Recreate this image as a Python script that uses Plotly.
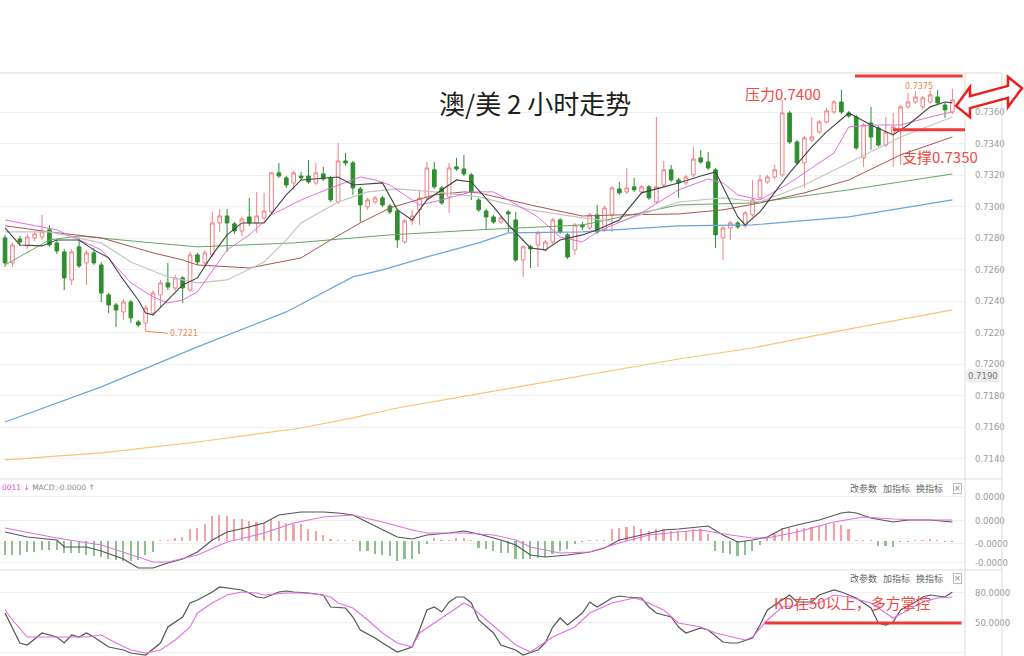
import plotly.graph_objects as go

# ---------------- candle data (AUD/USD, 2h) ----------------
opens = [0.72803, 0.72644, 0.72796, 0.72752, 0.72803, 0.72809, 0.72854, 0.72771, 0.72714, 0.72536,
         0.72746, 0.72644, 0.72708, 0.72631, 0.72441, 0.72377, 0.72333, 0.72396, 0.72269, 0.72263,
         0.72326, 0.72441, 0.72517, 0.72485, 0.72549, 0.72472, 0.72695, 0.72644, 0.72695, 0.72898,
         0.72942, 0.72892, 0.72847, 0.72936, 0.72898, 0.72930, 0.72968, 0.73216, 0.73184, 0.73152,
         0.73196, 0.73196, 0.73152, 0.73209, 0.73184, 0.73031, 0.73292, 0.73279, 0.73114, 0.73000,
         0.73031, 0.73057, 0.73006, 0.72974, 0.72777, 0.72911, 0.72981, 0.73057, 0.73235, 0.73120,
         0.73063, 0.73254, 0.73241, 0.73203, 0.73044, 0.72974, 0.72936, 0.72904, 0.72968, 0.72917,
         0.72663, 0.72746, 0.72758, 0.72727, 0.72777, 0.72917, 0.72822, 0.72727, 0.72885, 0.72866,
         0.72949, 0.72854, 0.72949, 0.73114, 0.73095, 0.73127, 0.73095, 0.73127, 0.73031, 0.73139,
         0.73235, 0.73171, 0.73152, 0.73203, 0.73311, 0.73285, 0.73235, 0.72803, 0.72866, 0.72898,
         0.72879, 0.72949, 0.73057, 0.73158, 0.73190, 0.73203, 0.73596, 0.73412, 0.73279, 0.73425,
         0.73476, 0.73539, 0.73603, 0.73666, 0.73596, 0.73571, 0.73311, 0.73533, 0.73501, 0.73393,
         0.73469, 0.73489, 0.73635, 0.73666, 0.73635, 0.73666, 0.73698, 0.73647, 0.73603]
highs = [0.72822, 0.72771, 0.72815, 0.72828, 0.72847, 0.72949, 0.72885, 0.72790, 0.72733, 0.72733,
         0.72809, 0.72727, 0.72739, 0.72650, 0.72453, 0.72390, 0.72415, 0.72409, 0.72282, 0.72377,
         0.72472, 0.72536, 0.72644, 0.72568, 0.72561, 0.72714, 0.72708, 0.72727, 0.72968, 0.72987,
         0.72987, 0.72904, 0.72936, 0.73057, 0.73095, 0.73089, 0.73222, 0.73279, 0.73196, 0.73228,
         0.73222, 0.73298, 0.73279, 0.73254, 0.73196, 0.73406, 0.73342, 0.73292, 0.73127, 0.73057,
         0.73070, 0.73070, 0.73019, 0.72987, 0.72923, 0.72981, 0.73108, 0.73285, 0.73285, 0.73133,
         0.73279, 0.73311, 0.73330, 0.73216, 0.73057, 0.72987, 0.72949, 0.72942, 0.72981, 0.72968,
         0.72758, 0.72758, 0.72847, 0.72790, 0.72930, 0.72930, 0.72835, 0.72898, 0.72904, 0.72962,
         0.73012, 0.73006, 0.73133, 0.73158, 0.73247, 0.73184, 0.73139, 0.73139, 0.73571, 0.73292,
         0.73266, 0.73184, 0.73203, 0.73381, 0.73362, 0.73349, 0.73247, 0.72879, 0.72911, 0.72911,
         0.72974, 0.73171, 0.73203, 0.73203, 0.73266, 0.73679, 0.73609, 0.73425, 0.73450, 0.73571,
         0.73552, 0.73628, 0.73679, 0.73743, 0.73609, 0.73584, 0.73533, 0.73635, 0.73514, 0.73571,
         0.73596, 0.73647, 0.73723, 0.73736, 0.73704, 0.73743, 0.73743, 0.73660, 0.73750]
lows = [0.72619, 0.72619, 0.72752, 0.72733, 0.72784, 0.72790, 0.72746, 0.72701, 0.72472, 0.72504,
        0.72612, 0.72504, 0.72631, 0.72396, 0.72326, 0.72237, 0.72282, 0.72263, 0.72237, 0.72210,
        0.72307, 0.72358, 0.72472, 0.72466, 0.72390, 0.72460, 0.72631, 0.72625, 0.72682, 0.72841,
        0.72714, 0.72828, 0.72815, 0.72879, 0.72835, 0.72917, 0.72955, 0.73184, 0.73120, 0.73108,
        0.73165, 0.73146, 0.73139, 0.73165, 0.73031, 0.73019, 0.73260, 0.73076, 0.72904, 0.72981,
        0.73019, 0.73000, 0.72955, 0.72739, 0.72765, 0.72885, 0.72885, 0.73044, 0.73114, 0.73012,
        0.72962, 0.73228, 0.73196, 0.73044, 0.72968, 0.72854, 0.72892, 0.72892, 0.72841, 0.72650,
        0.72555, 0.72612, 0.72619, 0.72714, 0.72765, 0.72828, 0.72669, 0.72695, 0.72854, 0.72854,
        0.72828, 0.72841, 0.72841, 0.73076, 0.73082, 0.73095, 0.73082, 0.73044, 0.73019, 0.73127,
        0.73158, 0.73057, 0.73139, 0.73190, 0.73273, 0.73235, 0.72739, 0.72663, 0.72790, 0.72860,
        0.72866, 0.72936, 0.73044, 0.73146, 0.73177, 0.73190, 0.73400, 0.73266, 0.73120, 0.73412,
        0.73463, 0.73527, 0.73590, 0.73590, 0.73565, 0.73362, 0.73254, 0.73362, 0.73381, 0.73381,
        0.73254, 0.73266, 0.73622, 0.73654, 0.73622, 0.73654, 0.73647, 0.73565, 0.73590]
closes = [0.72644, 0.72758, 0.72777, 0.72809, 0.72828, 0.72841, 0.72758, 0.72720, 0.72549, 0.72714,
          0.72625, 0.72708, 0.72644, 0.72453, 0.72377, 0.72345, 0.72396, 0.72295, 0.72250, 0.72358,
          0.72453, 0.72517, 0.72491, 0.72549, 0.72485, 0.72695, 0.72650, 0.72708, 0.72898, 0.72942,
          0.72898, 0.72847, 0.72923, 0.72898, 0.72942, 0.72974, 0.73216, 0.73196, 0.73139, 0.73216,
          0.73184, 0.73158, 0.73216, 0.73177, 0.73044, 0.73292, 0.73279, 0.73120, 0.73012, 0.73044,
          0.73057, 0.73012, 0.72968, 0.72790, 0.72911, 0.72942, 0.73057, 0.73247, 0.73127, 0.73025,
          0.73247, 0.73241, 0.73209, 0.73095, 0.72981, 0.72936, 0.72904, 0.72930, 0.72955, 0.72663,
          0.72746, 0.72733, 0.72835, 0.72777, 0.72917, 0.72841, 0.72682, 0.72885, 0.72873, 0.72949,
          0.72841, 0.72993, 0.73120, 0.73089, 0.73120, 0.73108, 0.73127, 0.73057, 0.73127, 0.73235,
          0.73171, 0.73152, 0.73190, 0.73304, 0.73285, 0.73247, 0.72822, 0.72866, 0.72898, 0.72873,
          0.72962, 0.73044, 0.73171, 0.73190, 0.73235, 0.73596, 0.73412, 0.73279, 0.73438, 0.73444,
          0.73539, 0.73609, 0.73666, 0.73603, 0.73577, 0.73374, 0.73520, 0.73444, 0.73393, 0.73476,
          0.73508, 0.73635, 0.73666, 0.73698, 0.73692, 0.73711, 0.73660, 0.73616, 0.73679]
bars = list(range(len(opens)))

# ---------------- moving averages ----------------
ma5_x = [0, 2, 5, 7, 10, 12, 14, 16, 18, 19, 20, 22, 24, 26, 28, 30, 32, 35, 38, 40,
         43, 45, 47, 51, 53, 55, 57, 61, 63, 66, 68, 71, 73, 75, 78, 80, 83, 86, 89, 91,
         94, 96, 99, 100, 102, 106, 109, 111, 114, 117, 120, 122, 125, 127, 128]
ma5_y = [0.72866, 0.72758, 0.72752, 0.72790, 0.72790, 0.72727, 0.72676, 0.72536, 0.72409, 0.72326,
         0.72314, 0.72409, 0.72504, 0.72549, 0.72695, 0.72822, 0.72898, 0.72898, 0.73076, 0.73171,
         0.73184, 0.73190, 0.73139, 0.73152, 0.72981, 0.72917, 0.73044, 0.73171, 0.73158, 0.73000,
         0.72885, 0.72739, 0.72727, 0.72790, 0.72822, 0.72854, 0.72917, 0.73089, 0.73127, 0.73152,
         0.73196, 0.73222, 0.72936, 0.72885, 0.72968, 0.73216, 0.73381, 0.73476, 0.73596, 0.73520,
         0.73457, 0.73520, 0.73635, 0.73666, 0.73660]
ma10_x = [0, 7, 13, 17, 20, 22, 24, 26, 30, 33, 36, 40, 44, 48, 50, 52, 56, 59, 63, 66,
          68, 72, 75, 78, 80, 86, 91, 95, 97, 99, 102, 106, 112, 114, 117, 121, 125, 128]
ma10_y = [0.72917, 0.72854, 0.72727, 0.72517, 0.72428, 0.72390, 0.72409, 0.72460, 0.72727, 0.72822,
          0.72949, 0.73044, 0.73120, 0.73190, 0.73171, 0.73139, 0.73012, 0.73044, 0.73095, 0.73095,
          0.73044, 0.72936, 0.72809, 0.72777, 0.72841, 0.72962, 0.73108, 0.73177, 0.73152, 0.73076,
          0.73044, 0.73152, 0.73342, 0.73508, 0.73520, 0.73520, 0.73571, 0.73603]
ma20_x = [0, 6, 13, 17, 22, 26, 30, 35, 38, 40, 45, 49, 53, 58, 64, 71, 78, 83, 87, 91,
          97, 102, 108, 114, 121, 128]
ma20_y = [0.72841, 0.72841, 0.72771, 0.72650, 0.72555, 0.72517, 0.72536, 0.72650, 0.72790, 0.72898,
          0.73031, 0.73095, 0.73114, 0.73095, 0.73063, 0.72981, 0.72930, 0.72904, 0.72968, 0.73031,
          0.73057, 0.73031, 0.73139, 0.73279, 0.73444, 0.73571]
ma30_x = [0, 6, 13, 20, 24, 26, 33, 40, 44, 48, 52, 58, 62, 64, 71, 78, 83, 91, 97, 102,
          108, 114, 121, 128]
ma30_y = [0.72880, 0.72841, 0.72803, 0.72708, 0.72663, 0.72631, 0.72612, 0.72676, 0.72790, 0.72898,
          0.72993, 0.73076, 0.73095, 0.73089, 0.73012, 0.72942, 0.72949, 0.72955, 0.72981, 0.73025,
          0.73089, 0.73171, 0.73330, 0.73444]
ma60_x = [0, 6, 10, 13, 20, 26, 39, 52, 64, 78, 91, 101, 114, 128]
ma60_y = [0.72631, 0.72790, 0.72815, 0.72803, 0.72771, 0.72746, 0.72771, 0.72822, 0.72854, 0.72885,
          0.73012, 0.73025, 0.73108, 0.73209]
ma120_x = [0, 13, 26, 38, 47, 51, 57, 64, 68, 78, 91, 101, 114, 128]
ma120_y = [0.71634, 0.71857, 0.72111, 0.72333, 0.72555, 0.72600, 0.72682, 0.72771, 0.72835, 0.72841,
           0.72879, 0.72885, 0.72936, 0.73044]
ma250_x = [0, 13, 26, 40, 47, 53, 67, 80, 91, 101, 112, 128]
ma250_y = [0.71393, 0.71438, 0.71507, 0.71596, 0.71660, 0.71723, 0.71838, 0.71945, 0.72034, 0.72104,
           0.72206, 0.72346]

# ---------------- MACD (units of 1e-6) ----------------
macd_hist = [-14, -14, -14, -11, -11, -9, -9, -9, -12, -12, -12, -14, -15, -16, -18, -19, -20, -20, -19, -14,
             -11, 0.5, 0.5, 3, 4, 12, 13, 17, 25, 26, 25, 22, 22, 20, 19, 18, 22, 20, 18, 17,
             17, 12, 10, 6, 2, 1, 1, 1, -10, -10, -13, -14, -15, -20, -18, -18, -13, -3, 3, 1,
             1, 3, 3, 1, -7, -8, -10, -12, -12, -18, -18, -18, -17, -16, -13, -10, -8, -3, -1, 1,
             1, 1, 12, 13, 14, 15, 12, 10, 12, 12, 10, 10, 10, 12, 12, 7, -10, -12, -13, -15,
             -14, -10, -4, 3, 7, 13, 13, 12, 13, 14, 15, 17, 18, 16, 12, 1, 1, 1, -5, -5,
             -6, -1, -1, 1, 1, 2, 1, -1, -1]
dif_x = [0, 3, 7, 8, 11, 13, 16, 18, 20, 22, 24, 26, 28, 30, 33, 35, 37, 40, 43, 45,
         47, 51, 53, 55, 57, 60, 62, 64, 67, 69, 71, 73, 76, 79, 81, 83, 86, 89, 91, 94,
         95, 97, 99, 101, 103, 105, 107, 110, 113, 114, 115, 117, 120, 122, 125, 128]
dif_y = [9, 4, 1, -6, -6, -10, -18, -27, -27, -22, -18, -11, 1, 9, 14, 18, 26, 29, 29, 28,
         26, 11, 4, 2, 6, 8, 10, 7, 1, -4, -14, -16, -14, -11, -7, 1, 6, 11, 12, 14,
         15, 6, -1, 1, 4, 12, 16, 21, 28, 29, 28, 23, 19, 21, 21, 19]
dea_x = [0, 7, 13, 17, 20, 22, 26, 30, 35, 39, 43, 47, 51, 55, 57, 62, 66, 69, 71, 75,
         79, 83, 87, 91, 94, 98, 101, 103, 107, 112, 116, 120, 124, 128]
dea_y = [13, 3, -4, -14, -21, -21, -14, -1, 8, 18, 24, 26, 19, 11, 8, 8, 6, 1, -6, -12,
         -11, -2, 6, 9, 11, 6, 3, 3, 9, 19, 24, 22, 21, 21]

# ---------------- KD ----------------
k_x = [0, 2, 3, 5, 7, 8, 9, 10, 11, 12, 14, 16, 17, 19, 21, 22, 24, 25, 26, 28,
       29, 30, 32, 33, 34, 35, 37, 38, 39, 41, 43, 44, 46, 47, 48, 50, 51, 53, 55, 56,
       57, 58, 59, 60, 61, 62, 63, 64, 66, 67, 69, 70, 72, 73, 74, 75, 76, 78, 79, 80,
       82, 83, 84, 86, 87, 88, 90, 91, 92, 94, 95, 97, 98, 99, 101, 102, 103, 105, 106, 107,
       109, 110, 112, 113, 114, 115, 117, 118, 119, 120, 121, 123, 124, 125, 127, 128]
k_y = [60, 30, 28, 40, 36, 30, 38, 36, 40, 36, 26, 23, 20, 18, 30, 46, 56, 70, 73, 81,
       86, 85, 83, 80, 76, 75, 81, 82, 81, 80, 78, 66, 65, 56, 43, 35, 30, 21, 26, 43,
       63, 66, 61, 71, 76, 76, 70, 53, 40, 28, 23, 18, 23, 30, 46, 55, 48, 60, 71, 66,
       75, 77, 76, 75, 66, 60, 56, 46, 40, 45, 43, 31, 30, 30, 35, 48, 63, 73, 78, 71,
       71, 78, 83, 81, 78, 75, 65, 50, 48, 51, 63, 71, 76, 78, 76, 81]
d_x = [0, 1, 3, 6, 8, 11, 13, 15, 17, 19, 21, 23, 25, 26, 28, 30, 32, 34, 35, 38,
       40, 42, 44, 45, 47, 49, 51, 53, 55, 56, 58, 60, 62, 63, 65, 67, 69, 71, 74, 77,
       79, 82, 85, 86, 89, 91, 94, 96, 100, 101, 103, 105, 108, 110, 112, 114, 117, 119, 120, 122,
       124, 126, 128]
d_y = [63, 53, 36, 36, 36, 36, 38, 30, 23, 20, 23, 33, 46, 60, 70, 78, 81, 80, 78, 80,
       80, 79, 76, 70, 65, 53, 40, 30, 26, 40, 50, 60, 70, 66, 53, 40, 28, 21, 36, 46,
       60, 70, 75, 73, 63, 50, 46, 40, 33, 36, 53, 66, 68, 70, 78, 76, 70, 60, 55, 63,
       71, 75, 76]

# ---------------- axis ticks ----------------
price_ticks = [0.7140, 0.7160, 0.7180, 0.7200, 0.7220, 0.7240, 0.7260, 0.7280, 0.7300, 0.7320, 0.7340, 0.7360]
price_tick_text = ["0.7140", "0.7160", "0.7180", "0.7200", "0.7220", "0.7240", "0.7260", "0.7280",
                   "0.7300", "0.7320", "0.7340", "0.7360"]
macd_ticks = [44, 20, -3, -22]
macd_tick_text = ["0.0000", "0.0000", "-0.0000", "-0.0000"]
kd_ticks = [80, 50, 20]
kd_tick_text = ["80.0000", "50.0000", "20.0000"]

resistance_level = 0.73831
support_level = 0.73489
kd_level = 50
low_value = 0.7221
high_value = 0.7375
last_price = 0.7190

RED = "#f08080"
GREEN = "#2f8f2f"
ANN_RED = "#ee4b45"

fig = go.Figure()
fig.add_trace(go.Candlestick(
    x=bars, open=opens, high=highs, low=lows, close=closes,
    increasing=dict(line=dict(color=RED, width=1), fillcolor="white"),
    decreasing=dict(line=dict(color=GREEN, width=1), fillcolor=GREEN),
    xaxis="x", yaxis="y", showlegend=False, hoverinfo="skip"))

for xs, ys, col, w in [(ma250_x, ma250_y, "#fbc46e", 1.2), (ma120_x, ma120_y, "#6aa5dc", 1.2),
                       (ma60_x, ma60_y, "#63a863", 1.0), (ma30_x, ma30_y, "#a8564f", 1.0),
                       (ma20_x, ma20_y, "#c4c4c4", 1.2), (ma10_x, ma10_y, "#e26ee2", 1.0),
                       (ma5_x, ma5_y, "#444444", 1.1)]:
    fig.add_trace(go.Scatter(x=xs, y=ys, mode="lines", line=dict(color=col, width=w),
                             xaxis="x", yaxis="y", showlegend=False, hoverinfo="skip"))

hist_colors = ["#f4a3a3" if v > 0 else "#8fbf8f" for v in macd_hist]
fig.add_trace(go.Bar(x=bars, y=macd_hist, width=0.22, marker=dict(color=hist_colors, line=dict(width=0)),
                     xaxis="x2", yaxis="y2", showlegend=False, hoverinfo="skip"))
fig.add_trace(go.Scatter(x=dif_x, y=dif_y, mode="lines", line=dict(color="#555555", width=1.2),
                         xaxis="x2", yaxis="y2", showlegend=False, hoverinfo="skip"))
fig.add_trace(go.Scatter(x=dea_x, y=dea_y, mode="lines", line=dict(color="#e070e0", width=1.1),
                         xaxis="x2", yaxis="y2", showlegend=False, hoverinfo="skip"))
fig.add_trace(go.Scatter(x=k_x, y=k_y, mode="lines", line=dict(color="#555555", width=1.2),
                         xaxis="x3", yaxis="y3", showlegend=False, hoverinfo="skip"))
fig.add_trace(go.Scatter(x=d_x, y=d_y, mode="lines", line=dict(color="#e070e0", width=1.1),
                         xaxis="x3", yaxis="y3", showlegend=False, hoverinfo="skip"))

XR = [-0.68, 129.7]
XD = [0, 0.94238]
xcommon = dict(range=XR, domain=XD, showgrid=False, zeroline=False, showticklabels=False,
               showline=False, ticks="", fixedrange=True)
ycommon = dict(side="right", showgrid=True, gridcolor="#f1f1f1", gridwidth=1, zeroline=False,
               showline=False, ticks="", ticklabelstandoff=9,
               tickfont=dict(family="DejaVu Sans", size=8.5, color="#9a9a9a"), fixedrange=True)

fig.update_layout(
    width=1024, height=656, margin=dict(l=0, r=0, t=0, b=0),
    paper_bgcolor="white", plot_bgcolor="white", hovermode=False, showlegend=False,
    xaxis=dict(**xcommon, anchor="y", rangeslider=dict(visible=False)),
    xaxis2=dict(**xcommon, anchor="y2"),
    xaxis3=dict(**xcommon, anchor="y3"),
    yaxis=dict(**ycommon, anchor="x", domain=[0.26982, 0.88872], range=[0.71272, 0.73850],
               tickvals=price_ticks, ticktext=price_tick_text),
    yaxis2=dict(**ycommon, anchor="x2", domain=[0.13110, 0.26982], range=[-29, 62],
                tickvals=macd_ticks, ticktext=macd_tick_text),
    yaxis3=dict(**ycommon, anchor="x3", domain=[0, 0.13110], range=[17, 103],
                tickvals=kd_ticks, ticktext=kd_tick_text),
    bargap=0,
)

line_col = "#dcdcdc"
shapes = [
    dict(type="line", xref="paper", yref="paper", x0=0, x1=0.9785, y0=0.88872, y1=0.88872,
         line=dict(color=line_col, width=1)),
    dict(type="line", xref="paper", yref="paper", x0=0, x1=0.9785, y0=0.26982, y1=0.26982,
         line=dict(color=line_col, width=1)),
    dict(type="line", xref="paper", yref="paper", x0=0, x1=0.9785, y0=0.13110, y1=0.13110,
         line=dict(color=line_col, width=1)),
    dict(type="line", xref="paper", yref="paper", x0=0.94238, x1=0.94238, y0=0, y1=0.88872,
         line=dict(color=line_col, width=1)),
    dict(type="line", xref="paper", yref="paper", x0=0.9785, x1=0.9785, y0=0, y1=0.88872,
         line=dict(color=line_col, width=1)),
    # resistance / support / KD 50 lines
    dict(type="line", xref="paper", yref="y", x0=0.835, x1=0.940, y0=resistance_level, y1=resistance_level,
         line=dict(color="#ee3a36", width=3)),
    dict(type="line", xref="paper", yref="y", x0=0.872, x1=0.9424, y0=support_level, y1=support_level,
         line=dict(color="#ee3a36", width=3)),
    dict(type="line", xref="paper", yref="y3", x0=0.747, x1=0.939, y0=kd_level, y1=kd_level,
         line=dict(color="#ee3a36", width=3)),
    # double arrow
    dict(type="path", xref="paper", yref="paper",
         path=("M 0.93359 0.83857 L 0.94727 0.86723 L 0.94727 0.85351 L 0.98438 0.86905 "
               "L 0.98438 0.88277 L 0.99805 0.86570 L 0.98438 0.83704 L 0.98438 0.85076 "
               "L 0.94727 0.83521 L 0.94727 0.82149 Z"),
         line=dict(color="#ee1c1c", width=2.5), fillcolor="white", layer="above"),
]
fig.update_layout(shapes=shapes)

C = dict(xanchor="center", yanchor="middle")
ann = [
    dict(text="澳/美 2 小时走势", x=0.5225, y=0.8445, xref="paper", yref="paper", showarrow=False, **C,
         font=dict(family="Noto Sans CJK SC", size=26, color="#1e1e1e")),
    dict(text="压力0.7400", x=0.7646, y=0.8582, xref="paper", yref="paper", showarrow=False, **C,
         font=dict(family="Noto Sans CJK SC", size=15, color=ANN_RED)),
    dict(text="支撑0.7350", x=0.918, y=0.7607, xref="paper", yref="paper", showarrow=False, **C,
         font=dict(family="Noto Sans CJK SC", size=15, color=ANN_RED)),
    dict(text="KD在50以上，多方掌控", x=0.833, y=0.0823, xref="paper", yref="paper", showarrow=False, **C,
         font=dict(family="Noto Sans CJK SC", size=15, color=ANN_RED)),
    dict(text='<span style="color:#e040e0">0011 ↓</span> MACD:-0.0000 ↑', x=0.0, y=0.2561,
         xref="paper", yref="paper", xanchor="left", yanchor="middle", showarrow=False,
         font=dict(family="DejaVu Sans", size=7.5, color="#888888")),
    dict(text="改参数   加指标   换指标", x=0.9225, y=0.2546, xref="paper", yref="paper", xanchor="right",
         yanchor="middle", showarrow=False, font=dict(family="Noto Sans CJK SC", size=9, color="#666666")),
    dict(text="×", x=0.9346, y=0.2556, xref="paper", yref="paper", showarrow=False, **C,
         bordercolor="#bbbbbb", borderwidth=1, borderpad=0,
         font=dict(family="DejaVu Sans", size=8, color="#888888")),
    dict(text="改参数   加指标   换指标", x=0.9225, y=0.1174, xref="paper", yref="paper", xanchor="right",
         yanchor="middle", showarrow=False, font=dict(family="Noto Sans CJK SC", size=9, color="#666666")),
    dict(text="×", x=0.9346, y=0.1184, xref="paper", yref="paper", showarrow=False, **C,
         bordercolor="#bbbbbb", borderwidth=1, borderpad=0,
         font=dict(family="DejaVu Sans", size=8, color="#888888")),
    dict(text="0.7190", x=0.9434, y=last_price, xref="paper", yref="y", xanchor="left", yanchor="middle",
         yshift=4, showarrow=False, bgcolor="#ececec", borderpad=1,
         font=dict(family="DejaVu Sans", size=8.5, color="#777777")),
    dict(text="0.7221", x=19, y=low_value, xref="x", yref="y", ax=22, ay=2, xanchor="left",
         showarrow=True, arrowhead=0, arrowwidth=1, arrowcolor="#f0884a",
         font=dict(family="DejaVu Sans", size=8, color="#f0884a")),
    dict(text="0.7375", x=126, y=high_value, xref="x", yref="y", showarrow=False,
         xanchor="right", yanchor="middle", xshift=-3, yshift=2,
         font=dict(family="DejaVu Sans", size=8, color="#f0884a")),
]
fig.update_layout(annotations=ann)

fig.write_html("out.html", config={"displayModeBar": False},
               post_script="document.body.style.margin='0px';document.body.style.padding='0px';")
